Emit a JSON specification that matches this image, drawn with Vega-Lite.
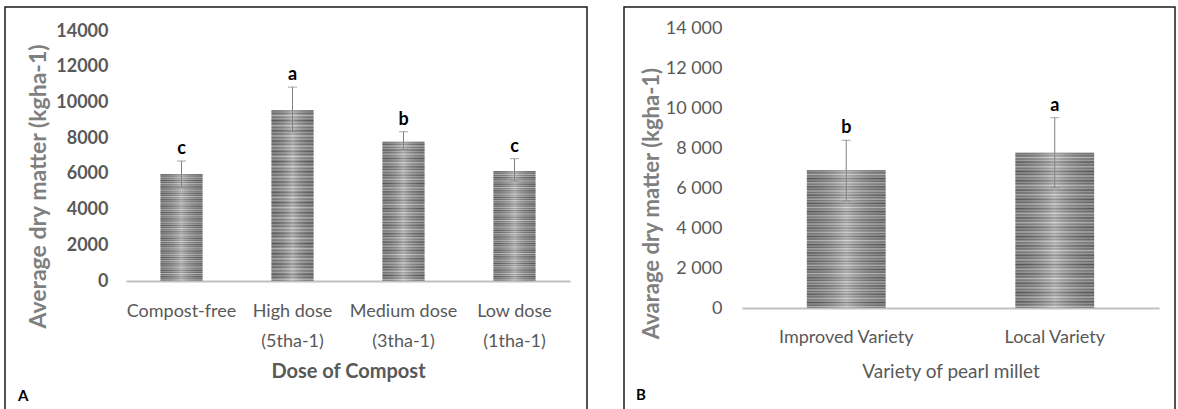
{
  "$schema": "https://vega.github.io/schema/vega-lite/v6.json",
  "padding": {"left": 4, "top": 6, "right": 0, "bottom": 0},
  "autosize": {"type": "pad"},
  "background": "white",
  "spacing": 35,
  "config": {
    "font": "Lato",
    "view": {"stroke": "#1a1a1a", "strokeWidth": 1.5},
    "axis": {"grid": false, "ticks": false, "tickSize": 0, "labelFont": "Lato", "titleFont": "Lato"},
    "text": {"font": "Lato"},
    "title": {"font": "Lato"}
  },
  "datasets": {
    "compost": [
      {"dose": "Compost-free", "mean": 5990, "lo": 5260, "hi": 6720, "letter": "c"},
      {"dose": "High dose (5tha-1)", "mean": 9560, "lo": 8360, "hi": 10860, "letter": "a"},
      {"dose": "Medium dose (3tha-1)", "mean": 7800, "lo": 7375, "hi": 8360, "letter": "b"},
      {"dose": "Low dose (1tha-1)", "mean": 6160, "lo": 5600, "hi": 6850, "letter": "c"}
    ],
    "variety": [
      {"variety": "Improved Variety", "mean": 6910, "lo": 5370, "hi": 8415, "letter": "b"},
      {"variety": "Local Variety", "mean": 7790, "lo": 6040, "hi": 9550, "letter": "a"}
    ]
  },
  "hconcat": [
    {
      "width": 582,
      "height": 409,
      "title": {"text": "A", "orient": "bottom", "anchor": "start", "frame": "group", "offset": -27, "dx": 13, "baseline": "top", "fontSize": 15, "fontWeight": "bold", "color": "#000000"},
      "data": {"name": "compost"},
      "encoding": {
        "x": {
          "field": "dose", "type": "nominal", "sort": null,
          "scale": {"range": [121, 565], "paddingInner": 0.62, "paddingOuter": 0.31},
          "axis": {
            "orient": "bottom", "offset": -135, "domain": true, "domainColor": "#c0c0c0", "domainWidth": 2,
            "labelAngle": 0, "labelFontSize": 18, "labelColor": "#595959", "labelPadding": 21, "labelLineHeight": 30,
            "labelExpr": "indexof(datum.label, ' (') > 0 ? [substring(datum.label, 0, indexof(datum.label, ' (')), substring(datum.label, indexof(datum.label, ' (') + 1)] : datum.label",
            "title": "Dose of Compost", "titleFontSize": 20, "titleFontWeight": "bold", "titleColor": "#595959", "titlePadding": 11
          }
        },
        "y": {
          "field": "mean", "type": "quantitative",
          "scale": {"domain": [-7560, 15344], "nice": false, "zero": false},
          "axis": {
            "values": [0, 2000, 4000, 6000, 8000, 10000, 12000, 14000], "format": "d",
            "offset": -107, "domain": false, "labelFontSize": 18, "labelFontWeight": "bold", "labelColor": "#595959", "labelPadding": 4,
            "title": "Average dry matter (kgha-1)", "titleFontSize": 23, "titleFontWeight": "bold", "titleColor": "#7f7f7f",
            "titleAngle": 270, "titleX": -74, "titleY": 179, "titleAlign": "center", "titleBaseline": "middle"
          }
        }
      },
      "layer": [
        {
          "mark": {"type": "bar", "fill": {"gradient": "linear", "x1": 0, "y1": 0, "x2": 0, "y2": 1, "stops": [
            {"offset": 0, "color": "#5e5e5e"}, {"offset": 0.01, "color": "#a6a6a6"}, {"offset": 0.02, "color": "#707070"}, {"offset": 0.03, "color": "#c8c8c8"}, {"offset": 0.04, "color": "#7a7a7a"}, {"offset": 0.05, "color": "#b0b0b0"},
            {"offset": 0.06, "color": "#5e5e5e"}, {"offset": 0.07, "color": "#a6a6a6"}, {"offset": 0.08, "color": "#707070"}, {"offset": 0.09, "color": "#c8c8c8"}, {"offset": 0.10, "color": "#7a7a7a"}, {"offset": 0.11, "color": "#b0b0b0"},
            {"offset": 0.12, "color": "#5e5e5e"}, {"offset": 0.13, "color": "#a6a6a6"}, {"offset": 0.14, "color": "#707070"}, {"offset": 0.15, "color": "#c8c8c8"}, {"offset": 0.16, "color": "#7a7a7a"}, {"offset": 0.17, "color": "#b0b0b0"},
            {"offset": 0.18, "color": "#5e5e5e"}, {"offset": 0.19, "color": "#a6a6a6"}, {"offset": 0.20, "color": "#707070"}, {"offset": 0.21, "color": "#c8c8c8"}, {"offset": 0.22, "color": "#7a7a7a"}, {"offset": 0.23, "color": "#b0b0b0"},
            {"offset": 0.24, "color": "#5e5e5e"}, {"offset": 0.25, "color": "#a6a6a6"}, {"offset": 0.26, "color": "#707070"}, {"offset": 0.27, "color": "#c8c8c8"}, {"offset": 0.28, "color": "#7a7a7a"}, {"offset": 0.29, "color": "#b0b0b0"},
            {"offset": 0.30, "color": "#5e5e5e"}, {"offset": 0.31, "color": "#a6a6a6"}, {"offset": 0.32, "color": "#707070"}, {"offset": 0.33, "color": "#c8c8c8"}, {"offset": 0.34, "color": "#7a7a7a"}, {"offset": 0.35, "color": "#b0b0b0"},
            {"offset": 0.36, "color": "#5e5e5e"}, {"offset": 0.37, "color": "#a6a6a6"}, {"offset": 0.38, "color": "#707070"}, {"offset": 0.39, "color": "#c8c8c8"}, {"offset": 0.40, "color": "#7a7a7a"}, {"offset": 0.41, "color": "#b0b0b0"},
            {"offset": 0.42, "color": "#5e5e5e"}, {"offset": 0.43, "color": "#a6a6a6"}, {"offset": 0.44, "color": "#707070"}, {"offset": 0.45, "color": "#c8c8c8"}, {"offset": 0.46, "color": "#7a7a7a"}, {"offset": 0.47, "color": "#b0b0b0"},
            {"offset": 0.48, "color": "#5e5e5e"}, {"offset": 0.49, "color": "#a6a6a6"}, {"offset": 0.50, "color": "#707070"}, {"offset": 0.51, "color": "#c8c8c8"}, {"offset": 0.52, "color": "#7a7a7a"}, {"offset": 0.53, "color": "#b0b0b0"},
            {"offset": 0.54, "color": "#5e5e5e"}, {"offset": 0.55, "color": "#a6a6a6"}, {"offset": 0.56, "color": "#707070"}, {"offset": 0.57, "color": "#c8c8c8"}, {"offset": 0.58, "color": "#7a7a7a"}, {"offset": 0.59, "color": "#b0b0b0"},
            {"offset": 0.60, "color": "#5e5e5e"}, {"offset": 0.61, "color": "#a6a6a6"}, {"offset": 0.62, "color": "#707070"}, {"offset": 0.63, "color": "#c8c8c8"}, {"offset": 0.64, "color": "#7a7a7a"}, {"offset": 0.65, "color": "#b0b0b0"},
            {"offset": 0.66, "color": "#5e5e5e"}, {"offset": 0.67, "color": "#a6a6a6"}, {"offset": 0.68, "color": "#707070"}, {"offset": 0.69, "color": "#c8c8c8"}, {"offset": 0.70, "color": "#7a7a7a"}, {"offset": 0.71, "color": "#b0b0b0"},
            {"offset": 0.72, "color": "#5e5e5e"}, {"offset": 0.73, "color": "#a6a6a6"}, {"offset": 0.74, "color": "#707070"}, {"offset": 0.75, "color": "#c8c8c8"}, {"offset": 0.76, "color": "#7a7a7a"}, {"offset": 0.77, "color": "#b0b0b0"},
            {"offset": 0.78, "color": "#5e5e5e"}, {"offset": 0.79, "color": "#a6a6a6"}, {"offset": 0.80, "color": "#707070"}, {"offset": 0.81, "color": "#c8c8c8"}, {"offset": 0.82, "color": "#7a7a7a"}, {"offset": 0.83, "color": "#b0b0b0"},
            {"offset": 0.84, "color": "#5e5e5e"}, {"offset": 0.85, "color": "#a6a6a6"}, {"offset": 0.86, "color": "#707070"}, {"offset": 0.87, "color": "#c8c8c8"}, {"offset": 0.88, "color": "#7a7a7a"}, {"offset": 0.89, "color": "#b0b0b0"},
            {"offset": 0.90, "color": "#5e5e5e"}, {"offset": 0.91, "color": "#a6a6a6"}, {"offset": 0.92, "color": "#707070"}, {"offset": 0.93, "color": "#c8c8c8"}, {"offset": 0.94, "color": "#7a7a7a"}, {"offset": 0.95, "color": "#b0b0b0"},
            {"offset": 0.96, "color": "#5e5e5e"}, {"offset": 0.97, "color": "#a6a6a6"}, {"offset": 0.98, "color": "#707070"}, {"offset": 0.99, "color": "#c8c8c8"}, {"offset": 1, "color": "#7a7a7a"}
          ]}},
          "encoding": {"y2": {"datum": 0}}
        },
        {
          "mark": {"type": "bar", "fill": {"gradient": "linear", "x1": 0, "y1": 0, "x2": 1, "y2": 0, "stops": [
            {"offset": 0, "color": "rgba(0,0,0,0.12)"}, {"offset": 0.5, "color": "rgba(255,255,255,0.3)"}, {"offset": 1, "color": "rgba(0,0,0,0.12)"}
          ]}},
          "encoding": {"y2": {"datum": 0}}
        },
        {
          "mark": {"type": "rule", "color": "#808080", "strokeWidth": 1},
          "encoding": {"y": {"field": "lo", "type": "quantitative"}, "y2": {"field": "hi"}}
        },
        {
          "mark": {"type": "tick", "color": "#808080", "size": 9, "thickness": 1},
          "encoding": {"y": {"field": "hi", "type": "quantitative"}}
        },
        {
          "mark": {"type": "tick", "color": "#808080", "size": 9, "thickness": 1},
          "encoding": {"y": {"field": "lo", "type": "quantitative"}}
        },
        {
          "mark": {"type": "text", "dy": -7, "baseline": "alphabetic", "fontSize": 18, "fontWeight": "bold", "color": "#000000"},
          "encoding": {"y": {"field": "hi", "type": "quantitative"}, "text": {"field": "letter"}}
        }
      ]
    },
    {
      "width": 551,
      "height": 409,
      "title": {"text": "B", "orient": "bottom", "anchor": "start", "frame": "group", "offset": -28, "dx": 12, "baseline": "top", "fontSize": 15, "fontWeight": "bold", "color": "#000000"},
      "data": {"name": "variety"},
      "encoding": {
        "x": {
          "field": "variety", "type": "nominal", "sort": null,
          "scale": {"range": [118, 535], "paddingInner": 0.622, "paddingOuter": 0.311},
          "axis": {
            "orient": "bottom", "offset": -108, "domain": true, "domainColor": "#c0c0c0", "domainWidth": 2,
            "labelAngle": 0, "labelFontSize": 18, "labelColor": "#595959", "labelPadding": 20,
            "title": "Variety of pearl millet", "titleFontSize": 19, "titleFontWeight": "normal", "titleColor": "#595959", "titlePadding": 16
          }
        },
        "y": {
          "field": "mean", "type": "quantitative",
          "scale": {"domain": [-5419.35, 15103.94], "nice": false, "zero": false},
          "axis": {
            "values": [0, 2000, 4000, 6000, 8000, 10000, 12000, 14000],
            "labelExpr": "replace(format(datum.value, ','), ',', ' ')",
            "offset": -102, "domain": false, "labelFontSize": 18, "labelFontWeight": "normal", "labelColor": "#595959", "labelPadding": 4,
            "title": "Avarage dry matter (kgha-1)", "titleFontSize": 22, "titleFontWeight": "bold", "titleColor": "#7f7f7f",
            "titleAngle": 270, "titleX": -75, "titleY": 196, "titleAlign": "center", "titleBaseline": "middle"
          }
        }
      },
      "layer": [
        {
          "mark": {"type": "bar", "fill": {"gradient": "linear", "x1": 0, "y1": 0, "x2": 0, "y2": 1, "stops": [
            {"offset": 0, "color": "#5e5e5e"}, {"offset": 0.01, "color": "#a6a6a6"}, {"offset": 0.02, "color": "#707070"}, {"offset": 0.03, "color": "#c8c8c8"}, {"offset": 0.04, "color": "#7a7a7a"}, {"offset": 0.05, "color": "#b0b0b0"},
            {"offset": 0.06, "color": "#5e5e5e"}, {"offset": 0.07, "color": "#a6a6a6"}, {"offset": 0.08, "color": "#707070"}, {"offset": 0.09, "color": "#c8c8c8"}, {"offset": 0.10, "color": "#7a7a7a"}, {"offset": 0.11, "color": "#b0b0b0"},
            {"offset": 0.12, "color": "#5e5e5e"}, {"offset": 0.13, "color": "#a6a6a6"}, {"offset": 0.14, "color": "#707070"}, {"offset": 0.15, "color": "#c8c8c8"}, {"offset": 0.16, "color": "#7a7a7a"}, {"offset": 0.17, "color": "#b0b0b0"},
            {"offset": 0.18, "color": "#5e5e5e"}, {"offset": 0.19, "color": "#a6a6a6"}, {"offset": 0.20, "color": "#707070"}, {"offset": 0.21, "color": "#c8c8c8"}, {"offset": 0.22, "color": "#7a7a7a"}, {"offset": 0.23, "color": "#b0b0b0"},
            {"offset": 0.24, "color": "#5e5e5e"}, {"offset": 0.25, "color": "#a6a6a6"}, {"offset": 0.26, "color": "#707070"}, {"offset": 0.27, "color": "#c8c8c8"}, {"offset": 0.28, "color": "#7a7a7a"}, {"offset": 0.29, "color": "#b0b0b0"},
            {"offset": 0.30, "color": "#5e5e5e"}, {"offset": 0.31, "color": "#a6a6a6"}, {"offset": 0.32, "color": "#707070"}, {"offset": 0.33, "color": "#c8c8c8"}, {"offset": 0.34, "color": "#7a7a7a"}, {"offset": 0.35, "color": "#b0b0b0"},
            {"offset": 0.36, "color": "#5e5e5e"}, {"offset": 0.37, "color": "#a6a6a6"}, {"offset": 0.38, "color": "#707070"}, {"offset": 0.39, "color": "#c8c8c8"}, {"offset": 0.40, "color": "#7a7a7a"}, {"offset": 0.41, "color": "#b0b0b0"},
            {"offset": 0.42, "color": "#5e5e5e"}, {"offset": 0.43, "color": "#a6a6a6"}, {"offset": 0.44, "color": "#707070"}, {"offset": 0.45, "color": "#c8c8c8"}, {"offset": 0.46, "color": "#7a7a7a"}, {"offset": 0.47, "color": "#b0b0b0"},
            {"offset": 0.48, "color": "#5e5e5e"}, {"offset": 0.49, "color": "#a6a6a6"}, {"offset": 0.50, "color": "#707070"}, {"offset": 0.51, "color": "#c8c8c8"}, {"offset": 0.52, "color": "#7a7a7a"}, {"offset": 0.53, "color": "#b0b0b0"},
            {"offset": 0.54, "color": "#5e5e5e"}, {"offset": 0.55, "color": "#a6a6a6"}, {"offset": 0.56, "color": "#707070"}, {"offset": 0.57, "color": "#c8c8c8"}, {"offset": 0.58, "color": "#7a7a7a"}, {"offset": 0.59, "color": "#b0b0b0"},
            {"offset": 0.60, "color": "#5e5e5e"}, {"offset": 0.61, "color": "#a6a6a6"}, {"offset": 0.62, "color": "#707070"}, {"offset": 0.63, "color": "#c8c8c8"}, {"offset": 0.64, "color": "#7a7a7a"}, {"offset": 0.65, "color": "#b0b0b0"},
            {"offset": 0.66, "color": "#5e5e5e"}, {"offset": 0.67, "color": "#a6a6a6"}, {"offset": 0.68, "color": "#707070"}, {"offset": 0.69, "color": "#c8c8c8"}, {"offset": 0.70, "color": "#7a7a7a"}, {"offset": 0.71, "color": "#b0b0b0"},
            {"offset": 0.72, "color": "#5e5e5e"}, {"offset": 0.73, "color": "#a6a6a6"}, {"offset": 0.74, "color": "#707070"}, {"offset": 0.75, "color": "#c8c8c8"}, {"offset": 0.76, "color": "#7a7a7a"}, {"offset": 0.77, "color": "#b0b0b0"},
            {"offset": 0.78, "color": "#5e5e5e"}, {"offset": 0.79, "color": "#a6a6a6"}, {"offset": 0.80, "color": "#707070"}, {"offset": 0.81, "color": "#c8c8c8"}, {"offset": 0.82, "color": "#7a7a7a"}, {"offset": 0.83, "color": "#b0b0b0"},
            {"offset": 0.84, "color": "#5e5e5e"}, {"offset": 0.85, "color": "#a6a6a6"}, {"offset": 0.86, "color": "#707070"}, {"offset": 0.87, "color": "#c8c8c8"}, {"offset": 0.88, "color": "#7a7a7a"}, {"offset": 0.89, "color": "#b0b0b0"},
            {"offset": 0.90, "color": "#5e5e5e"}, {"offset": 0.91, "color": "#a6a6a6"}, {"offset": 0.92, "color": "#707070"}, {"offset": 0.93, "color": "#c8c8c8"}, {"offset": 0.94, "color": "#7a7a7a"}, {"offset": 0.95, "color": "#b0b0b0"},
            {"offset": 0.96, "color": "#5e5e5e"}, {"offset": 0.97, "color": "#a6a6a6"}, {"offset": 0.98, "color": "#707070"}, {"offset": 0.99, "color": "#c8c8c8"}, {"offset": 1, "color": "#7a7a7a"}
          ]}},
          "encoding": {"y2": {"datum": 0}}
        },
        {
          "mark": {"type": "bar", "fill": {"gradient": "linear", "x1": 0, "y1": 0, "x2": 1, "y2": 0, "stops": [
            {"offset": 0, "color": "rgba(0,0,0,0.12)"}, {"offset": 0.5, "color": "rgba(255,255,255,0.3)"}, {"offset": 1, "color": "rgba(0,0,0,0.12)"}
          ]}},
          "encoding": {"y2": {"datum": 0}}
        },
        {
          "mark": {"type": "rule", "color": "#808080", "strokeWidth": 1},
          "encoding": {"y": {"field": "lo", "type": "quantitative"}, "y2": {"field": "hi"}}
        },
        {
          "mark": {"type": "tick", "color": "#808080", "size": 9, "thickness": 1},
          "encoding": {"y": {"field": "hi", "type": "quantitative"}}
        },
        {
          "mark": {"type": "tick", "color": "#808080", "size": 9, "thickness": 1},
          "encoding": {"y": {"field": "lo", "type": "quantitative"}}
        },
        {
          "mark": {"type": "text", "dy": -7, "baseline": "alphabetic", "fontSize": 18, "fontWeight": "bold", "color": "#000000"},
          "encoding": {"y": {"field": "hi", "type": "quantitative"}, "text": {"field": "letter"}}
        }
      ]
    }
  ]
}
